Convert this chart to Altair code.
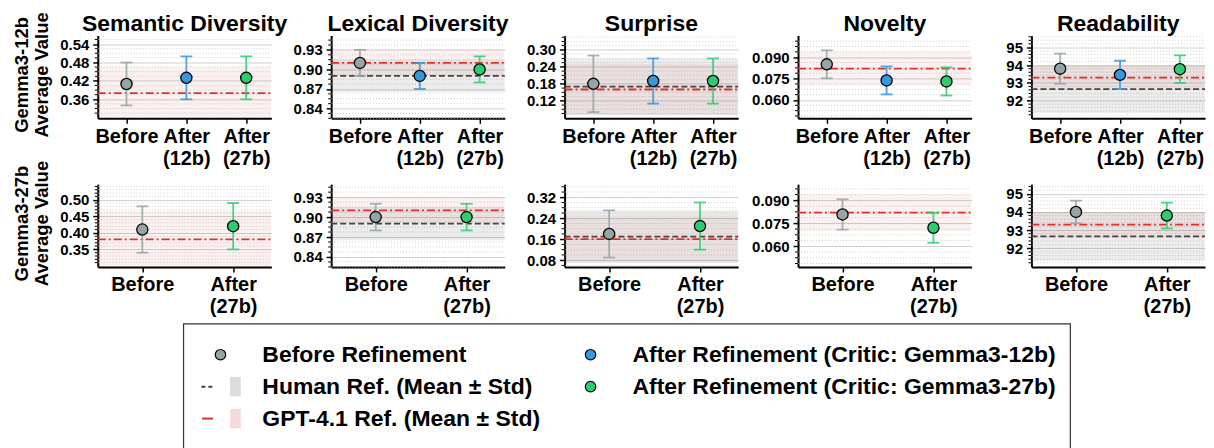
import altair as alt
import pandas as pd

FONT = "Liberation Sans"
metrics = ["Semantic Diversity", "Lexical Diversity", "Surprise", "Novelty", "Readability"]
row_titles = [["Gemma3-12b", "Average Value"], ["Gemma3-27b", "Average Value"]]

x_labels = [["Before", "After\n(12b)", "After\n(27b)"], ["Before", "After\n(27b)"]]
x_groups = [["Before", "After12", "After27"], ["Before", "After27"]]
x_domains = [[-0.48, 2.42], [-0.49, 1.42]]

# Row 1: critic Gemma3-12b
r1_before_mean = [0.41, 0.91, 0.18, 0.085, 93.80]
r1_before_std = [0.07, 0.02, 0.10, 0.0098, 0.85]
r1_after12_mean = [0.43, 0.89, 0.19, 0.0737, 93.45]
r1_after12_std = [0.07, 0.02, 0.08, 0.0098, 0.80]
r1_after27_mean = [0.43, 0.90, 0.19, 0.0730, 93.77]
r1_after27_std = [0.07, 0.02, 0.08, 0.0099, 0.78]

# Row 2: critic Gemma3-27b
r2_before_mean = [0.41, 0.90, 0.18, 0.0808, 94.00]
r2_before_std = [0.07, 0.02, 0.09, 0.0099, 0.62]
r2_after27_mean = [0.42, 0.90, 0.21, 0.0721, 93.80]
r2_after27_std = [0.07, 0.02, 0.09, 0.0098, 0.71]

# Reference values (mean, std)
human_mean = [None, 0.89, 0.17, None, 92.65]
human_std = [None, 0.025, 0.10, None, 1.35]
gpt_mean = [0.38, 0.91, 0.16, 0.082, 93.30]
gpt_std = [0.087, 0.02, 0.09, 0.012, 0.70]

y_domains = [
    [[0.298, 0.568], [0.825, 0.952], [0.058, 0.351], [0.0471, 0.1052], [91.0, 95.67]],
    [[0.297, 0.547], [0.825, 0.9495], [0.054, 0.370], [0.0465, 0.1006], [90.97, 95.53]],
]
y_ticks = [
    [[0.36, 0.42, 0.48, 0.54], [0.84, 0.87, 0.90, 0.93], [0.12, 0.18, 0.24, 0.30], [0.060, 0.075, 0.090], [92, 93, 94, 95]],
    [[0.35, 0.40, 0.45, 0.50], [0.84, 0.87, 0.90, 0.93], [0.08, 0.16, 0.24, 0.32], [0.060, 0.075, 0.090], [92, 93, 94, 95]],
]
y_minor_div = [[4, 4, 4, 4, 5], [5, 4, 4, 4, 5]]
y_formats = [".2f", ".2f", ".2f", ".3f", "d"]

group_domain = ["Before", "After12", "After27"]
group_colors = ["#95a5a6", "#3498db", "#2ecc71"]

legend_labels = ["Before Refinement", "Human Ref. (Mean ± Std)", "GPT-4.1 Ref. (Mean ± Std)",
                 "After Refinement (Critic: Gemma3-12b)", "After Refinement (Critic: Gemma3-27b)"]
legend_cols = [0, 0, 0, 1, 1]
legend_rows = [0, 1, 2, 0, 1]
legend_keys = ["Before", "Human", "GPT", "After12", "After27"]

W, H = 174, 83
ROW_GAP, COL_GAP = 66, 60
HUMAN_COLOR = "#444444"
GPT_COLOR = "#e0302a"


def label_expr(labels):
    parts = []
    for i, lab in enumerate(labels):
        arr = "[" + ",".join("'" + s + "'" for s in lab.split("\n")) + "]"
        parts.append(f"datum.value == {i} ? {arr}")
    return " : ".join(parts) + " : ''"


def minor_values(ticks, ndiv, dom):
    step = (ticks[1] - ticks[0]) / ndiv
    vals = []
    for k in range(-60, 400):
        v = ticks[0] + k * step
        if dom[0] <= v <= dom[1] and k % ndiv != 0:
            vals.append(round(v, 6))
    return vals


def make_panel(r, c):
    if r == 0:
        means = [r1_before_mean[c], r1_after12_mean[c], r1_after27_mean[c]]
        stds = [r1_before_std[c], r1_after12_std[c], r1_after27_std[c]]
    else:
        means = [r2_before_mean[c], r2_after27_mean[c]]
        stds = [r2_before_std[c], r2_after27_std[c]]
    groups = x_groups[r]
    df = pd.DataFrame({"x": list(range(len(means))), "m": means, "s": stds, "g": groups})
    df["lo"] = df["m"] - df["s"]
    df["hi"] = df["m"] + df["s"]

    ydom = y_domains[r][c]
    ys = alt.Scale(domain=ydom, nice=False, zero=False)
    xs = alt.Scale(domain=x_domains[r], nice=False, zero=False)
    col = alt.Color("g:N", scale=alt.Scale(domain=group_domain, range=group_colors), legend=None)

    yaxis = alt.Axis(
        values=y_ticks[r][c], format=y_formats[c], grid=True, gridColor="#cfcfcf", gridWidth=1,
        domainColor="black", domainWidth=2, tickColor="black", tickWidth=1.5, tickSize=5,
        labelFont=FONT, labelFontWeight="bold", labelFontSize=15, labelColor="black",
        labelPadding=4, labelOverlap=False, labelFlush=False, title=None,
    )
    xaxis = alt.Axis(
        values=list(range(len(means))), labelExpr=label_expr(x_labels[r]), grid=False,
        domainColor="black", domainWidth=2, tickColor="black", tickWidth=1.5, tickSize=5,
        labelFont=FONT, labelFontWeight="bold", labelFontSize=20, labelColor="black",
        labelLineHeight=22, labelPadding=3, labelOverlap=False, labelFlush=False, title=None,
    )

    def Y(field):
        return alt.Y(field, type="quantitative", scale=ys, axis=yaxis)

    def X(field):
        return alt.X(field, type="quantitative", scale=xs, axis=xaxis)

    layers = []
    minors = pd.DataFrame({"v": minor_values(y_ticks[r][c], y_minor_div[r][c], ydom)})
    layers.append(alt.Chart(minors).mark_rule(color="#c4c4c4", strokeDash=[1, 2], strokeWidth=0.8).encode(
        y=Y("v"), x=alt.value(0), x2=alt.value(W)))

    if human_mean[c] is not None:
        hdf = pd.DataFrame({"m": [human_mean[c]], "lo": [human_mean[c] - human_std[c]], "hi": [human_mean[c] + human_std[c]]})
        layers.append(alt.Chart(hdf).mark_rect(color="#808080", opacity=0.15, clip=True).encode(
            y=Y("lo"), y2="hi:Q", x=alt.value(0), x2=alt.value(W)))
    gdf = pd.DataFrame({"m": [gpt_mean[c]], "lo": [gpt_mean[c] - gpt_std[c]], "hi": [gpt_mean[c] + gpt_std[c]]})
    layers.append(alt.Chart(gdf).mark_rect(color="#d62728", opacity=0.065, clip=True).encode(
        y=Y("lo"), y2="hi:Q", x=alt.value(0), x2=alt.value(W)))

    # minor ticks on the y axis
    layers.append(alt.Chart(minors).mark_rule(color="black", strokeWidth=1).encode(
        y=Y("v"), x=alt.value(-3), x2=alt.value(0)))

    if human_mean[c] is not None:
        layers.append(alt.Chart(hdf).mark_rule(color=HUMAN_COLOR, strokeDash=[6, 3], strokeWidth=1.8).encode(
            y=Y("m"), x=alt.value(0), x2=alt.value(W)))
    layers.append(alt.Chart(gdf).mark_rule(color=GPT_COLOR, strokeDash=[8, 3, 2, 3], strokeWidth=1.8).encode(
        y=Y("m"), x=alt.value(0), x2=alt.value(W)))

    base = alt.Chart(df)
    layers.append(base.mark_rule(strokeWidth=1.8, opacity=0.85).encode(
        x=X("x"), y=Y("lo"), y2="hi:Q", color=col))
    layers.append(base.mark_tick(orient="horizontal", size=12, thickness=1.8, opacity=0.85).encode(
        x=X("x"), y=Y("lo"), color=col))
    layers.append(base.mark_tick(orient="horizontal", size=12, thickness=1.8, opacity=0.85).encode(
        x=X("x"), y=Y("hi"), color=col))
    layers.append(base.mark_circle(size=125, opacity=1, stroke="black", strokeWidth=1.3).encode(
        x=X("x"), y=Y("m"), color=col))

    # Row labels live in the bottom-left panel so they do not push the column title
    if c == 0 and r == 1:
        for rr, lab in enumerate(row_titles):
            yc = H / 2 - 2 - (1 - rr) * (H + ROW_GAP)
            layers.append(alt.Chart(pd.DataFrame({"a": [0]})).mark_text(
                text=lab, angle=270, align="center", baseline="middle", lineHeight=20,
                font=FONT, fontWeight="bold", fontSize=18.5, color="black").encode(
                x=alt.value(-76), y=alt.value(yc)))

    props = dict(width=W, height=H)
    if r == 0:
        props["title"] = alt.TitleParams(metrics[c], font=FONT, fontWeight="bold", fontSize=23,
                                         color="black", offset=0, anchor="middle")
    return alt.layer(*layers).properties(**props)


panels = [make_panel(r, c) for r in range(2) for c in range(5)]
grid = alt.concat(*panels, columns=5, spacing={"row": ROW_GAP, "column": COL_GAP}, bounds="flush")

# Legend
leg = pd.DataFrame({"col": legend_cols, "row": legend_rows, "label": legend_labels, "key": legend_keys})
lx = alt.Scale(domain=[0, 1], range=[165, 536])
ly = alt.Scale(domain=[0, 2], range=[31, 95])
LX = alt.X("col:Q", scale=lx, axis=None)
LY = alt.Y("row:Q", scale=ly, axis=None)
key_color = alt.Color("key:N", scale=alt.Scale(domain=["Before", "After12", "After27", "Human", "GPT"],
                                               range=group_colors + [HUMAN_COLOR, GPT_COLOR]), legend=None)
frame = alt.Chart(pd.DataFrame({"a": [0]})).mark_rect(fillOpacity=0, stroke="#333333", strokeWidth=1.2).encode(
    x=alt.value(86), x2=alt.value(975), y=alt.value(0), y2=alt.value(160))
ltext = alt.Chart(leg).mark_text(align="left", baseline="middle", font=FONT, fontWeight="bold",
                                 fontSize=23, color="black").encode(x=LX, y=LY, text="label:N")
lcirc = alt.Chart(leg).transform_filter(alt.FieldOneOfPredicate(field="key", oneOf=["Before", "After12", "After27"])).mark_circle(
    size=110, opacity=1, stroke="black", strokeWidth=1.2, xOffset=-42).encode(x=LX, y=LY, color=key_color)
ref_only = alt.FieldOneOfPredicate(field="key", oneOf=["Human", "GPT"])
ldash_h = alt.Chart(leg).transform_filter(alt.FieldEqualPredicate(field="key", equal="Human")).mark_point(
    shape="M -1 0 L 1 0", size=150, strokeWidth=2, strokeDash=[4, 3], xOffset=-55, opacity=1).encode(
    x=LX, y=LY, color=key_color)
ldash_g = alt.Chart(leg).transform_filter(alt.FieldEqualPredicate(field="key", equal="GPT")).mark_point(
    shape="M -1 0 L 1 0", size=120, strokeWidth=2, xOffset=-55, opacity=1).encode(
    x=LX, y=LY, color=key_color)
lsq = alt.Chart(leg).transform_filter(ref_only).mark_point(
    shape="M -0.55 -1 L 0.55 -1 L 0.55 1 L -0.55 1 Z", size=380, filled=True, xOffset=-27, opacity=1).encode(
    x=LX, y=LY, color=alt.Color("key:N", scale=alt.Scale(domain=["Human", "GPT"], range=["#dcdcdc", "#f6dada"]), legend=None))
legend = alt.layer(frame, lsq, ldash_h, ldash_g, lcirc, ltext).resolve_scale(color="independent").properties(width=980, height=125)

chart = alt.vconcat(grid, legend, spacing=6).configure_view(stroke=None).properties(
    padding={"left": 4, "top": 3, "right": 0, "bottom": 0})

chart.save("out.html", embed_options={"renderer": "svg", "actions": False})
